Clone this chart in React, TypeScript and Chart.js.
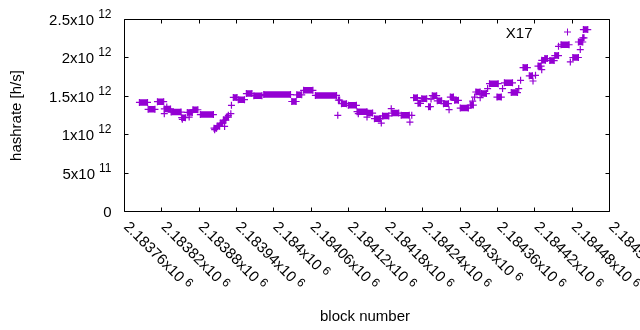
import React, { useEffect, useRef } from "react";
import { Chart, registerables } from "chart.js";

Chart.register(...registerables);

// Runs of consecutive blocks sharing the same hashrate estimate
const runStart = [
  2183784, 2183798, 2183813, 2183824, 2183835, 2183852, 2183861, 2183870, 2183882, 2183904,
  2183909, 2183914, 2183919, 2183924, 2183935, 2183943, 2183956, 2183968, 2183984, 2184029,
  2184037, 2184048, 2184067, 2184104, 2184109, 2184120, 2184134, 2184151, 2184162, 2184175,
  2184190, 2184205, 2184225, 2184232, 2184238, 2184249, 2184255, 2184263, 2184273, 2184284,
  2184291, 2184300, 2184316, 2184325, 2184334, 2184347, 2184359, 2184371, 2184382, 2184401,
  2184411, 2184425, 2184431, 2184436, 2184444, 2184452, 2184462, 2184481, 2184490, 2184497,
  2184498,
];
const runEnd = [
  2183797, 2183809, 2183823, 2183834, 2183851, 2183858, 2183869, 2183878, 2183903, 2183908,
  2183913, 2183918, 2183923, 2183927, 2183941, 2183953, 2183965, 2183981, 2184027, 2184036,
  2184045, 2184063, 2184101, 2184106, 2184117, 2184133, 2184150, 2184159, 2184172, 2184185,
  2184201, 2184218, 2184231, 2184236, 2184246, 2184252, 2184262, 2184270, 2184281, 2184289,
  2184297, 2184313, 2184321, 2184332, 2184342, 2184361, 2184366, 2184384, 2184392, 2184408,
  2184416, 2184430, 2184437, 2184440, 2184451, 2184458, 2184475, 2184490, 2184497, 2184499,
  2184505,
];
const runHashrate = [
  1.42e12, 1.33e12, 1.43e12, 1.335e12, 1.295e12, 1.222e12, 1.29e12, 1.325e12, 1.262e12, 1.085e12,
  1.11e12, 1.15e12, 1.19e12, 1.23e12, 1.486e12, 1.456e12, 1.535e12, 1.508e12, 1.522e12, 1.432e12,
  1.519e12, 1.578e12, 1.512e12, 1.451e12, 1.404e12, 1.382e12, 1.3e12, 1.282e12, 1.209e12, 1.245e12,
  1.282e12, 1.252e12, 1.482e12, 1.408e12, 1.469e12, 1.365e12, 1.508e12, 1.441e12, 1.404e12, 1.49e12,
  1.447e12, 1.347e12, 1.386e12, 1.556e12, 1.535e12, 1.665e12, 1.49e12, 1.675e12, 1.549e12, 1.874e12,
  1.767e12, 1.893e12, 1.969e12, 1.991e12, 1.965e12, 2.03e12, 2.171e12, 2.005e12, 2.207e12, 2.262e12,
  2.369e12,
];

// Single blocks
const singleBlock = [
  2183824, 2183828, 2183853, 2183864, 2183905, 2183921, 2183927, 2183931, 2183932, 2184103,
  2184136, 2184150, 2184173, 2184189, 2184219, 2184222, 2184253, 2184282, 2184320, 2184323,
  2184332, 2184344, 2184368, 2184394, 2184397, 2184417, 2184421, 2184431, 2184458, 2184477,
  2184493,
];
const singleHashrate = [
  1.274e12, 1.36e12, 1.2e12, 1.23e12, 1.065e12, 1.108e12, 1.252e12, 1.274e12, 1.382e12, 1.252e12,
  1.274e12, 1.23e12, 1.151e12, 1.339e12, 1.164e12, 1.252e12, 1.464e12, 1.326e12, 1.438e12, 1.49e12,
  1.482e12, 1.6e12, 1.6e12, 1.6e12, 1.708e12, 1.699e12, 1.773e12, 1.847e12, 2.151e12, 1.947e12,
  2.108e12,
];

const xTicks = [
  2183760, 2183820, 2183880, 2183940, 2184000, 2184060, 2184120, 2184180, 2184240, 2184300,
  2184360, 2184420, 2184480, 2184540,
];
const yTicks = [0, 5e11, 1e12, 1.5e12, 2e12, 2.5e12];
const yTickMain = ["0", "5x10", "1x10", "1.5x10", "2x10", "2.5x10"];
const yTickSup = ["", "11", "12", "12", "12", "12"];

const seriesName = "X17";
const xTitle = "block number";
const yTitle = "hashrate [h/s]";

const COLOR = "#9400d3";
const FONT = "'Liberation Sans', Arial, sans-serif";

function xLabelMain(v: number) {
  return parseFloat((v / 1e6).toFixed(5)).toString() + "x10";
}

const framePlugin = {
  id: "gnuplotFrame",
  afterDraw(chart: any) {
    const ctx = chart.ctx as CanvasRenderingContext2D;
    const xs = chart.scales.x;
    const ys = chart.scales.y;
    const L = 124.5, R = 609.5, T = 19.5, B = 211.5;
    ctx.save();
    ctx.strokeStyle = "#000";
    ctx.lineWidth = 1;
    ctx.beginPath();
    ctx.rect(L, T, R - L, B - T);
    ctx.stroke();
    const tl = 4;
    ctx.beginPath();
    xTicks.forEach((v) => {
      const px = Math.round(xs.getPixelForValue(v) - 0.5) + 0.5;
      ctx.moveTo(px, B);
      ctx.lineTo(px, B - tl);
      ctx.moveTo(px, T);
      ctx.lineTo(px, T + tl);
    });
    yTicks.forEach((v) => {
      const py = Math.round(ys.getPixelForValue(v) - 0.5) + 0.5;
      ctx.moveTo(L, py);
      ctx.lineTo(L + tl, py);
      ctx.moveTo(R, py);
      ctx.lineTo(R - tl, py);
    });
    ctx.stroke();

    ctx.fillStyle = "#000";
    // y tick labels
    yTicks.forEach((v, i) => {
      const py = ys.getPixelForValue(v);
      const right = 111.5;
      ctx.font = `12px ${FONT}`;
      const sw = yTickSup[i] ? ctx.measureText(yTickSup[i]).width : 0;
      const gap = yTickSup[i] ? 4 : 0;
      ctx.textAlign = "left";
      ctx.textBaseline = "alphabetic";
      ctx.font = `15px ${FONT}`;
      const mw = ctx.measureText(yTickMain[i]).width;
      const x0 = right - sw - gap - mw;
      ctx.fillText(yTickMain[i], x0, py + 5.5);
      if (yTickSup[i]) {
        ctx.font = `12px ${FONT}`;
        ctx.fillText(yTickSup[i], x0 + mw + gap, py - 1.5);
      }
    });

    // x tick labels, rotated 45 degrees
    xTicks.forEach((v) => {
      const px = xs.getPixelForValue(v);
      ctx.save();
      ctx.translate(px + 1.5, B + 13);
      ctx.rotate(Math.PI / 4);
      ctx.textAlign = "left";
      ctx.textBaseline = "middle";
      ctx.font = `15px ${FONT}`;
      const t = xLabelMain(v);
      ctx.fillText(t, 0, 0);
      const w = ctx.measureText(t).width;
      ctx.font = `12px ${FONT}`;
      ctx.fillText("6", w + 4, -3);
      ctx.restore();
    });

    // axis titles
    ctx.font = `15px ${FONT}`;
    ctx.textAlign = "center";
    ctx.textBaseline = "alphabetic";
    ctx.fillText(xTitle, 365, 321);
    ctx.save();
    ctx.translate(21, (T + B) / 2);
    ctx.rotate(-Math.PI / 2);
    ctx.fillText(yTitle, 0, 0);
    ctx.restore();

    // key
    ctx.textAlign = "right";
    ctx.fillText(seriesName, 532.5, 37.5);
    ctx.strokeStyle = COLOR;
    ctx.beginPath();
    ctx.moveTo(567.5 - 3.5, 32);
    ctx.lineTo(567.5 + 3.5, 32);
    ctx.moveTo(567.5, 32 - 3.5);
    ctx.lineTo(567.5, 32 + 3.5);
    ctx.stroke();
    ctx.restore();
  },
};

export default function App() {
  const ref = useRef<HTMLCanvasElement>(null);
  useEffect(() => {
    document.body.style.margin = "0";
    const runData: any[] = [];
    runStart.forEach((s, i) => {
      runData.push({ x: s, y: runHashrate[i] });
      runData.push({ x: runEnd[i], y: runHashrate[i] });
      runData.push({ x: runEnd[i], y: null });
    });
    const singleData = singleBlock.map((b, i) => ({ x: b, y: singleHashrate[i] }));
    const chart = new Chart(ref.current!, {
      type: "line",
      data: {
        datasets: [
          {
            label: seriesName,
            data: runData,
            borderColor: COLOR,
            backgroundColor: COLOR,
            borderWidth: 6.5,
            borderCapStyle: "butt",
            spanGaps: false,
            pointStyle: "cross",
            pointRadius: 3.5,
            pointBorderWidth: 1.2,
            pointBorderColor: COLOR,
            pointHoverRadius: 3.5,
          },
          {
            label: seriesName + " single",
            data: singleData,
            showLine: false,
            borderColor: COLOR,
            backgroundColor: COLOR,
            pointStyle: "cross",
            pointRadius: 3.5,
            pointBorderWidth: 1.2,
            pointBorderColor: COLOR,
          },
        ],
      },
      options: {
        animation: false,
        responsive: false,
        devicePixelRatio: 1,
        layout: { padding: { left: 124.5, right: 30.5, top: 19.5, bottom: 118.5 } },
        plugins: { legend: { display: false }, tooltip: { enabled: false } },
        events: [],
        scales: {
          x: { type: "linear", display: false, min: 2183760, max: 2184540 },
          y: { type: "linear", display: false, min: 0, max: 2.5e12 },
        },
      },
      plugins: [framePlugin],
    } as any);
    return () => chart.destroy();
  }, []);
  return <canvas ref={ref} width={640} height={330} style={{ display: "block" }} />;
}
